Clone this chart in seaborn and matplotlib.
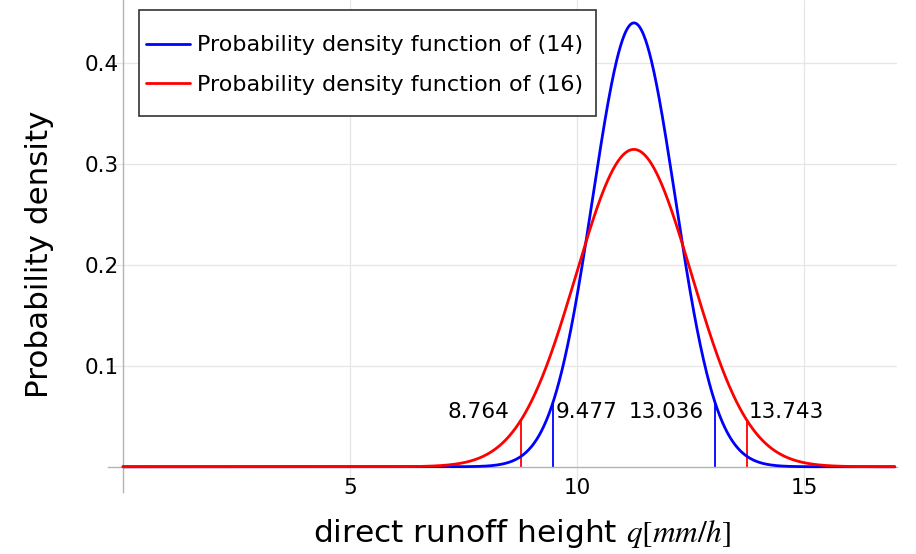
import numpy as np
import pandas as pd
import matplotlib
matplotlib.use("Agg")
import matplotlib.pyplot as plt
import seaborn as sns
from matplotlib.ticker import MultipleLocator
from matplotlib.lines import Line2D
from matplotlib.patches import Rectangle

# ---- data ----
series_names = ["Probability density function of (14)", "Probability density function of (16)"]
series_means = [11.2565, 11.2535]
series_sigmas = [0.908, 1.270]
series_colors = ["#0000ff", "#ff0000"]
bound_values = [[9.477, 13.036], [8.764, 13.743]]
bound_labels = [["9.477", "13.036"], ["8.764", "13.743"]]
x_range = [0.0, 17.0]

def pdf(x, m, s):
    return np.exp(-0.5 * ((x - m) / s) ** 2) / (s * np.sqrt(2 * np.pi))

xs = np.linspace(x_range[0], x_range[1], 1200)
frames = []
for name, m, s in zip(series_names, series_means, series_sigmas):
    frames.append(pd.DataFrame({"q": xs, "density": pdf(xs, m, s), "series": name}))
df = pd.concat(frames, ignore_index=True)

sns.set_theme(style="white")
plt.rcParams['font.family'] = ['DejaVu Sans']
plt.rcParams['mathtext.fontset'] = 'stix'
plt.rcParams['text.color'] = 'black'

fig = plt.figure(figsize=(9.16, 5.54), dpi=100)
ax = fig.add_axes([108 / 916, 1 - 492 / 554, (897 - 108) / 916, 492 / 554])

# grid
for gx in [5, 10, 15]:
    ax.axvline(gx, color="#e6e6e6", lw=0.9, zorder=0)
for gy in [0.1, 0.2, 0.3, 0.4]:
    ax.axhline(gy, color="#e6e6e6", lw=0.9, zorder=0)

sns.lineplot(data=df, x="q", y="density", hue="series", palette=series_colors,
             linewidth=2.0, ax=ax, legend=False, zorder=3)

NUM_FS = 15.5
# interval bound lines and labels
for i, (m, s) in enumerate(zip(series_means, series_sigmas)):
    for j, (b, lab) in enumerate(zip(bound_values[i], bound_labels[i])):
        h = pdf(b, m, s)
        ax.plot([b, b], [0, h], color=series_colors[i], lw=1.3, zorder=2)
        if (i == 1 and j == 0) or (i == 0 and j == 1):
            ax.text(b - 0.25, 0.054, lab, ha="right", va="center", fontsize=NUM_FS, color="black")
        else:
            ax.text(b + 0.05, 0.054, lab, ha="left", va="center", fontsize=NUM_FS, color="black")

ax.set_xlim(-0.33, 17.05)
ax.set_ylim(-0.025, 0.462)

for sp in ["top", "right"]:
    ax.spines[sp].set_visible(False)
ax.spines["left"].set_position(("data", 0))
ax.spines["bottom"].set_position(("data", 0))
for sp in ["left", "bottom"]:
    ax.spines[sp].set_color("#b3b3b3")
    ax.spines[sp].set_linewidth(1.0)

ax.set_xticks([5, 10, 15])
ax.set_yticks([0.1, 0.2, 0.3, 0.4])
ax.set_xticklabels(["5", "10", "15"])
ax.set_yticklabels(["0.1", "0.2", "0.3", "0.4"])
ax.xaxis.set_minor_locator(MultipleLocator(1))
ax.yaxis.set_minor_locator(MultipleLocator(0.02))
ax.tick_params(axis="both", which="major", direction="in", length=6, width=1.0,
               color="#b3b3b3", labelsize=NUM_FS, labelcolor="black")
ax.tick_params(axis="both", which="minor", direction="in", length=3.5, width=0.8, color="#b3b3b3")
ax.tick_params(axis="x", which="major", pad=8)
ax.tick_params(axis="y", which="major", pad=3)

# labels placed in figure coords
fig.text(522 / 916, 1 - 533 / 554, "direct runoff height $q[mm/h]$", ha="center", va="center",
         fontsize=22.5, color="black")
fig.text(40 / 916, 1 - 254 / 554, "Probability density", ha="center", va="center", rotation=90,
         fontsize=22.3, color="black")
ax.set_xlabel("")
ax.set_ylabel("")

# legend: frame drawn as a rectangle, entries via legend without frame
fig.patches.append(Rectangle((139 / 916, 1 - 116 / 554), (596 - 139) / 916, (116 - 10) / 554,
                             transform=fig.transFigure, fill=True, facecolor="white",
                             edgecolor="#333333", linewidth=1.2, zorder=10))
handles = [Line2D([0], [0], color=c, lw=2) for c in series_colors]
leg = fig.legend(handles, series_names, loc="center left", bbox_to_anchor=(146 / 916, 1 - 65 / 554),
                 bbox_transform=fig.transFigure, fontsize=16, frameon=False,
                 handlelength=2.0, handletextpad=0.3, borderpad=0, labelspacing=0.87,
                 borderaxespad=0)
leg.set_zorder(11)
for t in leg.get_texts():
    t.set_color("black")

fig.savefig("out.png", dpi=100)
